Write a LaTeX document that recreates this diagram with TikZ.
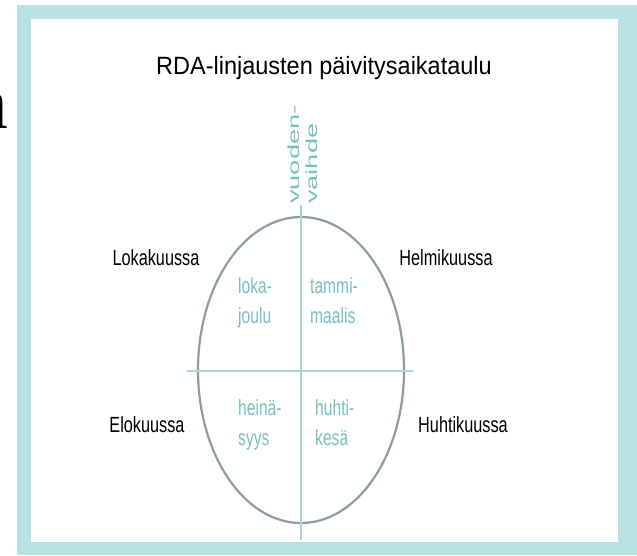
\documentclass[tikz,border=0pt]{standalone}
\usepackage{fontspec}
\setmainfont{Liberation Sans}
\newfontfamily\titlefont[FakeStretch=0.94]{Liberation Sans}
\newfontfamily\narrowfont[FakeStretch=0.74]{Liberation Sans}
\newfontfamily\quadfont[FakeStretch=0.71]{Liberation Sans}
\newfontfamily\widefont[FakeStretch=1.7]{Liberation Sans}
\newfontfamily\bigserif{Liberation Serif}
\usetikzlibrary{shapes.geometric}
\definecolor{framecol}{HTML}{B9E0E3}
\definecolor{tealtext}{HTML}{78C0C2}
\definecolor{crosscol}{HTML}{A8D6D8}
\definecolor{ringcol}{HTML}{8E9E9F}
\tikzset{
  monthlabel/.style={font=\narrowfont\fontsize{22}{26}\selectfont,text=black,anchor=base,inner sep=0pt},
  quadlabel/.style={font=\quadfont\fontsize{22}{30}\selectfont,text=tealtext,align=left,anchor=base west,inner sep=0pt},
  crossline/.style={draw=crosscol,line width=2pt}
}

\begin{document}
\begin{tikzpicture}[x=1pt,y=-1pt]
\useasboundingbox (0,0) rectangle (637,555);
\fill[white] (0,0) rectangle (637,555);
\draw[fill=framecol,draw=none] (17,5) rectangle (637,555);
\draw[fill=white,draw=none] (31,19) rectangle (618,542);
\node[font=\bigserif\fontsize{76}{80}\selectfont,anchor=base east,inner sep=0pt] (cutletter) at (8,128) {a};

\node[font=\titlefont\fontsize{25}{30}\selectfont,anchor=base,inner sep=0pt] (title) at (324,74) {RDA-linjausten päivitysaikataulu};

% the year as an ellipse split in four
\node[ellipse,draw=ringcol,line width=2.2pt,minimum width=206pt,minimum height=306pt,inner sep=0pt] (ring) at (301,370) {};
\coordinate (yeartop) at (301,205);
\coordinate (yearbot) at (301,540);
\coordinate (splitw) at (187,371);
\coordinate (splite) at (413,371);
\draw[crossline] (yeartop) -- (yearbot);
\draw[crossline] (splitw) -- (splite);

\node[font=\widefont\fontsize{16}{18}\selectfont,text=tealtext,align=left,rotate=90,anchor=west,inner sep=0pt] (newyear) at (303,204) {vuoden-\\vaihde};

% base anchor sits on the last line
\node[quadlabel] (octdec) at (238,323) {loka-\\joulu};
\node[quadlabel] (janmar) at (310,323) {tammi-\\maalis};
\node[quadlabel] (julsep) at (238,445) {heinä-\\syys};
\node[quadlabel] (aprjun) at (315,445) {huhti-\\kesä};

\node[monthlabel] (october) at (156,265) {Lokakuussa};
\node[monthlabel] (february) at (446,265) {Helmikuussa};
\node[monthlabel] (august) at (147,432) {Elokuussa};
\node[monthlabel] (april) at (463,432) {Huhtikuussa};

\end{tikzpicture}
\end{document}
